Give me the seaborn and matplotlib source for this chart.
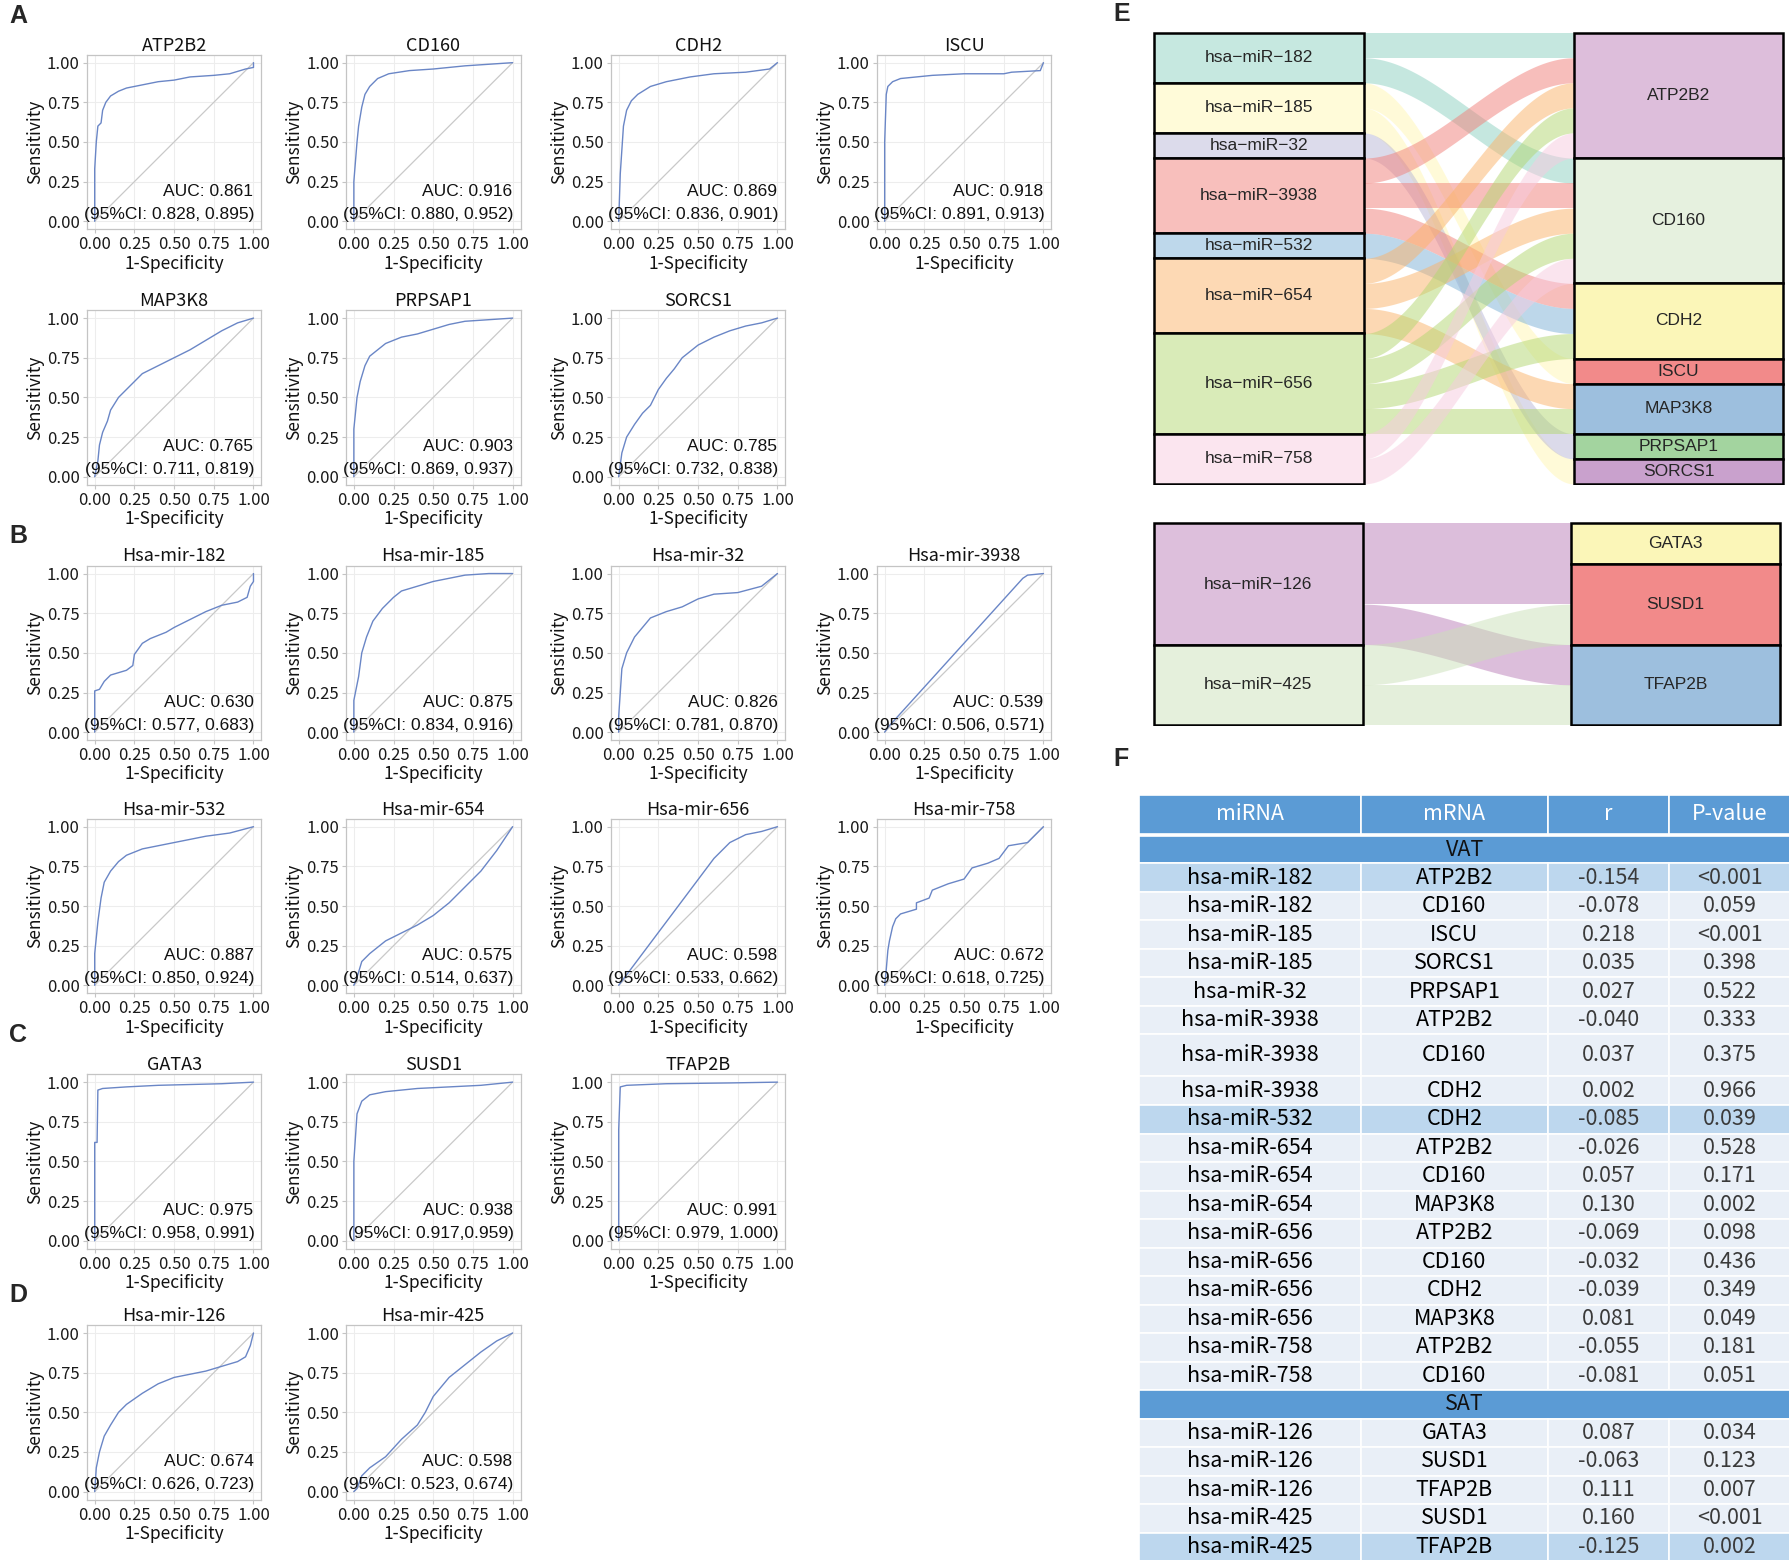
import numpy as np
import pandas as pd
import matplotlib
matplotlib.use("Agg")
import matplotlib.pyplot as plt
import seaborn as sns
from matplotlib.patches import Rectangle
from matplotlib.colors import to_rgb

# ---------------- ROC panel data ----------------
roc_titles = ["ATP2B2", "CD160", "CDH2", "ISCU", "MAP3K8", "PRPSAP1", "SORCS1",
              "Hsa-mir-182", "Hsa-mir-185", "Hsa-mir-32", "Hsa-mir-3938",
              "Hsa-mir-532", "Hsa-mir-654", "Hsa-mir-656", "Hsa-mir-758",
              "GATA3", "SUSD1", "TFAP2B", "Hsa-mir-126", "Hsa-mir-425"]
roc_auc = ["0.861", "0.916", "0.869", "0.918", "0.765", "0.903", "0.785",
           "0.630", "0.875", "0.826", "0.539", "0.887", "0.575", "0.598", "0.672",
           "0.975", "0.938", "0.991", "0.674", "0.598"]
roc_ci = ["0.828, 0.895", "0.880, 0.952", "0.836, 0.901", "0.891, 0.913",
          "0.711, 0.819", "0.869, 0.937", "0.732, 0.838",
          "0.577, 0.683", "0.834, 0.916", "0.781, 0.870", "0.506, 0.571",
          "0.850, 0.924", "0.514, 0.637", "0.533, 0.662", "0.618, 0.725",
          "0.958, 0.991", "0.917,0.959", "0.979, 1.000", "0.626, 0.723", "0.523, 0.674"]

fpr_atp2b2 = [0, 0, 0.01, 0.02, 0.04, 0.05, 0.07, 0.10, 0.15, 0.20, 0.30, 0.40, 0.50, 0.60, 0.75, 0.85, 0.95, 1.00, 1.00]
tpr_atp2b2 = [0, 0.33, 0.50, 0.60, 0.62, 0.70, 0.75, 0.79, 0.82, 0.84, 0.86, 0.88, 0.89, 0.91, 0.92, 0.93, 0.96, 0.97, 1.00]
fpr_cd160 = [0, 0, 0.02, 0.03, 0.05, 0.07, 0.10, 0.15, 0.22, 0.35, 0.50, 0.70, 0.85, 1.00]
tpr_cd160 = [0, 0.25, 0.50, 0.60, 0.72, 0.80, 0.85, 0.90, 0.93, 0.95, 0.96, 0.98, 0.99, 1.00]
fpr_cdh2 = [0, 0.01, 0.02, 0.03, 0.05, 0.08, 0.12, 0.20, 0.30, 0.45, 0.60, 0.80, 0.95, 1.00]
tpr_cdh2 = [0, 0.30, 0.45, 0.60, 0.70, 0.76, 0.80, 0.85, 0.88, 0.91, 0.93, 0.94, 0.96, 1.00]
fpr_iscu = [0, 0.00, 0.01, 0.02, 0.05, 0.10, 0.20, 0.30, 0.50, 0.75, 0.80, 0.98, 1.00]
tpr_iscu = [0, 0.50, 0.80, 0.85, 0.88, 0.90, 0.91, 0.92, 0.93, 0.93, 0.94, 0.95, 1.00]
fpr_map3k8 = [0, 0.02, 0.03, 0.05, 0.08, 0.10, 0.15, 0.20, 0.25, 0.30, 0.40, 0.50, 0.60, 0.70, 0.80, 0.90, 1.00]
tpr_map3k8 = [0, 0.10, 0.20, 0.28, 0.35, 0.42, 0.50, 0.55, 0.60, 0.65, 0.70, 0.75, 0.80, 0.86, 0.92, 0.97, 1.00]
fpr_prpsap1 = [0, 0, 0.02, 0.04, 0.07, 0.10, 0.15, 0.20, 0.30, 0.40, 0.50, 0.60, 0.70, 0.85, 1.00]
tpr_prpsap1 = [0, 0.30, 0.50, 0.60, 0.70, 0.76, 0.80, 0.84, 0.88, 0.90, 0.93, 0.96, 0.98, 0.99, 1.00]
fpr_sorcs1 = [0, 0.02, 0.05, 0.10, 0.15, 0.20, 0.25, 0.30, 0.35, 0.40, 0.50, 0.60, 0.70, 0.80, 0.90, 1.00]
tpr_sorcs1 = [0, 0.15, 0.25, 0.33, 0.40, 0.45, 0.55, 0.62, 0.68, 0.75, 0.83, 0.88, 0.92, 0.95, 0.97, 1.00]
fpr_m182 = [0, 0, 0.03, 0.06, 0.10, 0.20, 0.24, 0.25, 0.30, 0.35, 0.45, 0.50, 0.60, 0.70, 0.80, 0.90, 0.96, 0.98, 1.00, 1.00]
tpr_m182 = [0, 0.26, 0.27, 0.32, 0.36, 0.39, 0.42, 0.49, 0.56, 0.59, 0.63, 0.66, 0.71, 0.76, 0.80, 0.82, 0.85, 0.92, 0.95, 1.00]
fpr_m185 = [0, 0, 0.03, 0.05, 0.08, 0.12, 0.18, 0.25, 0.30, 0.40, 0.50, 0.60, 0.70, 0.85, 1.00]
tpr_m185 = [0, 0.20, 0.35, 0.50, 0.60, 0.70, 0.78, 0.85, 0.89, 0.92, 0.95, 0.97, 0.99, 1.00, 1.00]
fpr_m32 = [0, 0.00, 0.02, 0.05, 0.10, 0.15, 0.20, 0.30, 0.40, 0.50, 0.60, 0.75, 0.90, 1.00]
tpr_m32 = [0, 0.10, 0.40, 0.50, 0.60, 0.66, 0.72, 0.76, 0.79, 0.84, 0.87, 0.88, 0.92, 1.00]
fpr_m3938 = [0, 0.02, 0.87, 0.90, 1.00]
tpr_m3938 = [0, 0.03, 0.97, 0.99, 1.00]
fpr_m532 = [0, 0, 0.02, 0.04, 0.06, 0.10, 0.15, 0.20, 0.30, 0.40, 0.50, 0.60, 0.70, 0.85, 1.00]
tpr_m532 = [0, 0.20, 0.40, 0.55, 0.65, 0.72, 0.78, 0.82, 0.86, 0.88, 0.90, 0.92, 0.94, 0.96, 1.00]
fpr_m654 = [0, 0.02, 0.05, 0.10, 0.20, 0.30, 0.40, 0.50, 0.60, 0.70, 0.80, 0.90, 1.00]
tpr_m654 = [0, 0.05, 0.15, 0.20, 0.28, 0.33, 0.38, 0.44, 0.52, 0.62, 0.72, 0.85, 1.00]
fpr_m656 = [0, 0.60, 0.70, 0.80, 0.90, 1.00]
tpr_m656 = [0, 0.80, 0.90, 0.95, 0.97, 1.00]
fpr_m758 = [0, 0.01, 0.02, 0.03, 0.05, 0.07, 0.10, 0.20, 0.20, 0.28, 0.30, 0.40, 0.50, 0.55, 0.65, 0.72, 0.78, 0.90, 0.95, 1.00]
tpr_m758 = [0, 0.10, 0.22, 0.28, 0.37, 0.42, 0.45, 0.48, 0.52, 0.55, 0.60, 0.64, 0.67, 0.74, 0.77, 0.80, 0.88, 0.90, 0.95, 1.00]
fpr_gata3 = [0, 0, 0.015, 0.02, 0.05, 0.20, 0.40, 0.60, 0.80, 1.00]
tpr_gata3 = [0, 0.62, 0.62, 0.95, 0.96, 0.97, 0.98, 0.985, 0.99, 1.00]
fpr_susd1 = [0, 0, 0.02, 0.05, 0.10, 0.20, 0.40, 0.60, 0.80, 1.00]
tpr_susd1 = [0, 0.50, 0.80, 0.88, 0.92, 0.94, 0.96, 0.97, 0.98, 1.00]
fpr_tfap2b = [0, 0, 0.01, 0.05, 0.30, 0.70, 1.00]
tpr_tfap2b = [0, 0.70, 0.97, 0.98, 0.99, 0.995, 1.00]
fpr_m126 = [0, 0.01, 0.03, 0.06, 0.10, 0.15, 0.20, 0.30, 0.40, 0.50, 0.60, 0.70, 0.80, 0.90, 0.95, 0.98, 1.00]
tpr_m126 = [0, 0.15, 0.25, 0.35, 0.42, 0.50, 0.55, 0.62, 0.68, 0.72, 0.74, 0.76, 0.79, 0.82, 0.85, 0.92, 1.00]
fpr_m425 = [0, 0.02, 0.05, 0.10, 0.20, 0.30, 0.40, 0.45, 0.50, 0.60, 0.70, 0.80, 0.90, 1.00]
tpr_m425 = [0, 0.02, 0.10, 0.15, 0.22, 0.33, 0.42, 0.50, 0.60, 0.72, 0.80, 0.88, 0.95, 1.00]

roc_fpr = [fpr_atp2b2, fpr_cd160, fpr_cdh2, fpr_iscu, fpr_map3k8, fpr_prpsap1, fpr_sorcs1,
           fpr_m182, fpr_m185, fpr_m32, fpr_m3938, fpr_m532, fpr_m654, fpr_m656, fpr_m758,
           fpr_gata3, fpr_susd1, fpr_tfap2b, fpr_m126, fpr_m425]
roc_tpr = [tpr_atp2b2, tpr_cd160, tpr_cdh2, tpr_iscu, tpr_map3k8, tpr_prpsap1, tpr_sorcs1,
           tpr_m182, tpr_m185, tpr_m32, tpr_m3938, tpr_m532, tpr_m654, tpr_m656, tpr_m758,
           tpr_gata3, tpr_susd1, tpr_tfap2b, tpr_m126, tpr_m425]
tick_vals = [0, 0.25, 0.5, 0.75, 1.0]
tick_labels = ["0.00", "0.25", "0.50", "0.75", "1.00"]

# ---------------- correlation table data ----------------
vat_mirna = ["hsa-miR-182", "hsa-miR-182", "hsa-miR-185", "hsa-miR-185", "hsa-miR-32",
             "hsa-miR-3938", "hsa-miR-3938", "hsa-miR-3938", "hsa-miR-532",
             "hsa-miR-654", "hsa-miR-654", "hsa-miR-654",
             "hsa-miR-656", "hsa-miR-656", "hsa-miR-656", "hsa-miR-656",
             "hsa-miR-758", "hsa-miR-758"]
vat_mrna = ["ATP2B2", "CD160", "ISCU", "SORCS1", "PRPSAP1", "ATP2B2", "CD160", "CDH2", "CDH2",
            "ATP2B2", "CD160", "MAP3K8", "ATP2B2", "CD160", "CDH2", "MAP3K8", "ATP2B2", "CD160"]
vat_r = ["-0.154", "-0.078", "0.218", "0.035", "0.027", "-0.040", "0.037", "0.002", "-0.085",
         "-0.026", "0.057", "0.130", "-0.069", "-0.032", "-0.039", "0.081", "-0.055", "-0.081"]
vat_p = ["<0.001", "0.059", "<0.001", "0.398", "0.522", "0.333", "0.375", "0.966", "0.039",
         "0.528", "0.171", "0.002", "0.098", "0.436", "0.349", "0.049", "0.181", "0.051"]
sat_mirna = ["hsa-miR-126", "hsa-miR-126", "hsa-miR-126", "hsa-miR-425", "hsa-miR-425"]
sat_mrna = ["GATA3", "SUSD1", "TFAP2B", "SUSD1", "TFAP2B"]
sat_r = ["0.087", "-0.063", "0.111", "0.160", "-0.125"]
sat_p = ["0.034", "0.123", "0.007", "<0.001", "0.002"]
table_header = ["miRNA", "mRNA", "r", "P-value"]
vat_highlight = [0, 8]
sat_highlight = [4]

# sankey node colours
node_colors = {
    "hsa-miR-182": "#C6E8E0", "hsa-miR-185": "#FFFBD9", "hsa-miR-32": "#DCDBEB",
    "hsa-miR-3938": "#F8BFBC", "hsa-miR-532": "#BED8EB", "hsa-miR-654": "#FDD9B4",
    "hsa-miR-656": "#D9EBB8", "hsa-miR-758": "#FBE5EF",
    "ATP2B2": "#DDBEDB", "CD160": "#E6F1DF", "CDH2": "#FBF6B8", "ISCU": "#F28A8A",
    "MAP3K8": "#9DBFDE", "PRPSAP1": "#A3D49F", "SORCS1": "#C9A1CD",
    "hsa-miR-126": "#DDBFDC", "hsa-miR-425": "#E5F0DC",
    "GATA3": "#FBF6B8", "SUSD1": "#F28A8A", "TFAP2B": "#9DBFDE",
}

# ---------------- figure ----------------
W, H = 1568.0, 1368.0
sns.set_theme(style="white")
plt.rcParams["font.family"] = ["Noto Sans CJK SC", "DejaVu Sans"]
plt.rcParams["axes.unicode_minus"] = False
fig = plt.figure(figsize=(17.9, 15.6), dpi=100, facecolor="white")


def ax_at(x, y, w, h):
    return fig.add_axes([x / W, 1 - (y + h) / H, w / W, h / H])


roc_row = [0, 0, 0, 0, 1, 1, 1, 2, 2, 2, 2, 3, 3, 3, 3, 4, 4, 4, 5, 5]
roc_col = [0, 1, 2, 3, 0, 1, 2, 0, 1, 2, 3, 0, 1, 2, 3, 0, 1, 2, 0, 1]
row_top = [48, 272, 496, 718, 942, 1162]
col_left = [76, 303, 535, 768]
line_col = "#6A86C6"

for i, title in enumerate(roc_titles):
    ax = ax_at(col_left[roc_col[i]], row_top[roc_row[i]], 153, 153)
    df = pd.DataFrame({"fpr": roc_fpr[i], "tpr": roc_tpr[i]})
    ax.plot([0, 1], [0, 1], color="#C9C9C9", lw=0.9, zorder=2)
    sns.lineplot(data=df, x="fpr", y="tpr", sort=False, estimator=None,
                 color=line_col, lw=1.0, ax=ax, zorder=3)
    ax.set_xlim(-0.05, 1.05)
    ax.set_ylim(-0.05, 1.05)
    ax.set_xticks(tick_vals)
    ax.set_yticks(tick_vals)
    ax.set_xticklabels(tick_labels)
    ax.set_yticklabels(tick_labels)
    ax.grid(True, color="#EDEDED", lw=0.8)
    ax.set_axisbelow(True)
    for s in ax.spines.values():
        s.set_color("#C4C4C4")
        s.set_linewidth(0.9)
    ax.tick_params(axis="both", length=3, width=0.8, color="#C4C4C4",
                   labelsize=12, labelcolor="#1a1a1a", pad=2, bottom=True, left=True)
    ax.set_xlabel("1-Specificity", fontsize=12.5, labelpad=1, color="#111111")
    ax.set_ylabel("Sensitivity", fontsize=12.5, labelpad=2, color="#111111")
    ax.set_title(title, fontsize=13, pad=3, color="#111111")
    ax.text(1.0, 0.19, "AUC: " + roc_auc[i], ha="right", va="center",
            family="Liberation Sans", fontsize=12.5, color="#111111", zorder=4)
    ax.text(1.005, 0.045, "(95%CI: " + roc_ci[i] + ")", ha="right", va="center",
            family="Liberation Sans", fontsize=12.5, color="#111111", zorder=4)

# panel letters
for letter, (lx, ly) in zip("ABCDEF", [(8, 14), (8, 470), (8, 908), (8, 1136), (975, 12), (975, 666)]):
    fig.text(lx / W, 1 - ly / H, letter, fontsize=18, weight="bold",
             family="Liberation Sans", va="center", ha="left")


# ---------------- sankey ----------------
def to_flow(c, a=0.5):
    rgb = np.array(to_rgb(c))
    return tuple(np.clip(1 - (1 - rgb) / a, 0, 1))


def sankey(ax, src, tgt):
    left = sorted(set(src))
    right = sorted(set(tgt))
    edges = list(zip(src, tgt))
    n = len(edges)
    lc = {k: src.count(k) for k in left}
    rc = {k: tgt.count(k) for k in right}
    lpos, rpos = {}, {}
    y = 0
    for k in left:
        lpos[k] = y
        y += lc[k]
    y = 0
    for k in right:
        rpos[k] = y
        y += rc[k]
    lo, ro = {}, {}
    for k in left:
        es = sorted([e for e in edges if e[0] == k], key=lambda e: right.index(e[1]))
        for j, e in enumerate(es):
            lo[e] = lpos[k] + j
    for k in right:
        es = sorted([e for e in edges if e[1] == k], key=lambda e: left.index(e[0]))
        for j, e in enumerate(es):
            ro[e] = rpos[k] + j
    t = np.linspace(0, 1, 200)
    s = t * t * (3 - 2 * t)
    xs = 1 + t
    for e in sorted(edges, key=lambda e: left.index(e[0])):
        y0 = lo[e] + (ro[e] - lo[e]) * s
        ax.fill_between(xs, y0, y0 + 1, color=to_flow(node_colors[e[0]]), alpha=0.5, lw=0)
    for k in left:
        ax.add_patch(Rectangle((0, lpos[k]), 1, lc[k], fc=node_colors[k], ec="black", lw=1.8, zorder=5))
        ax.text(0.5, lpos[k] + lc[k] / 2, k.replace("-", "\u2212"), ha="center", va="center",
                family="Liberation Sans", fontsize=12.5, zorder=6)
    for k in right:
        ax.add_patch(Rectangle((2, rpos[k]), 1, rc[k], fc=node_colors[k], ec="black", lw=1.8, zorder=5))
        ax.text(2.5, rpos[k] + rc[k] / 2, k, ha="center", va="center",
                family="Liberation Sans", fontsize=12.5, zorder=6)
    ax.set_xlim(-0.01, 3.01)
    ax.set_ylim(n + 0.03, -0.03)
    ax.axis("off")


ax_s1 = ax_at(1009, 28, 555, 397)
sankey(ax_s1, vat_mirna, vat_mrna)
ax_s2 = ax_at(1009, 458, 552, 179)
sankey(ax_s2, sat_mirna, sat_mrna)

# ---------------- table ----------------
tab = ax_at(998, 697, 570, 671)
tab.set_xlim(0, 570)
tab.set_ylim(671, 0)
tab.axis("off")
col_x = [0, 194, 358, 464, 570]
blue = "#5B9BD5"
light = "#E9EFF7"
hl = "#BDD7EE"

rows = [("head", table_header, 36, None)]
rows.append(("sec", "VAT", 24, None))
for i in range(len(vat_mirna)):
    rows.append(("data", [vat_mirna[i], vat_mrna[i], vat_r[i], vat_p[i]],
                 37 if i == 6 else 25, i in vat_highlight))
rows.append(("sec", "SAT", 25, None))
for i in range(len(sat_mirna)):
    rows.append(("data", [sat_mirna[i], sat_mrna[i], sat_r[i], sat_p[i]], 25, i in sat_highlight))

y = 0
for kind, content, h, hi in rows:
    yc = y + h / 2
    if kind == "head":
        for j in range(4):
            tab.add_patch(Rectangle((col_x[j], y), col_x[j + 1] - col_x[j], h - 2, fc=blue, ec="white", lw=1.2))
            tab.text((col_x[j] + col_x[j + 1]) / 2, y + (h - 2) / 2, content[j], ha="center", va="center",
                     color="white", fontsize=15.5)
    elif kind == "sec":
        tab.add_patch(Rectangle((0, y), 570, h, fc=blue, ec="white", lw=1.2))
        tab.text(285, yc, content, ha="center", va="center", color="#111111", fontsize=15.5)
    else:
        fc = hl if hi else light
        for j in range(4):
            tab.add_patch(Rectangle((col_x[j], y), col_x[j + 1] - col_x[j], h, fc=fc, ec="white", lw=1.2))
            tab.text((col_x[j] + col_x[j + 1]) / 2, yc, content[j], ha="center", va="center",
                     color="#000000" if j < 2 else "#3a3a3a", fontsize=15.5)
    y += h

fig.savefig("out.png", dpi=100, facecolor="white")
